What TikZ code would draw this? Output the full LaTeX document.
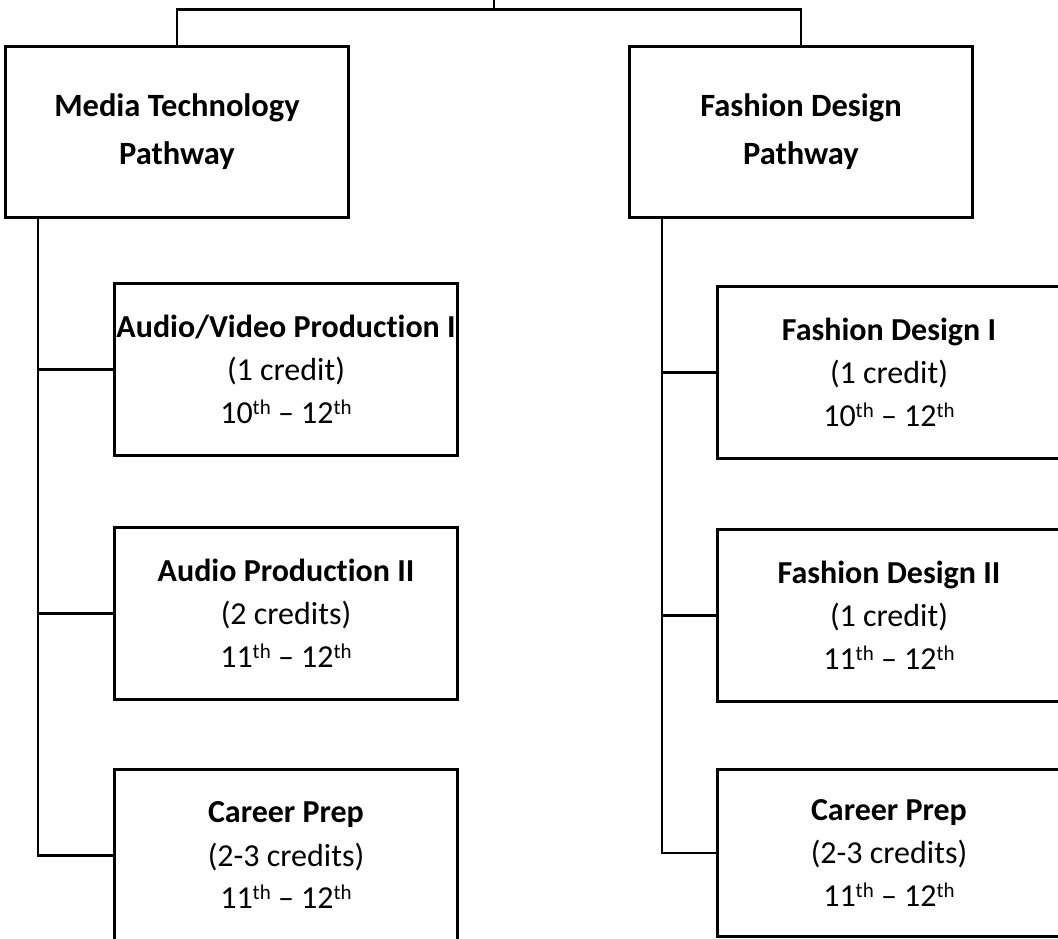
\documentclass[tikz,border=0pt]{standalone}
\usepackage{fontspec}
\setmainfont[Ligatures={NoCommon}]{Carlito}
\usetikzlibrary{positioning}
\newcommand{\ordsup}[1]{\raisebox{0.6ex}{\fontsize{21}{21}\selectfont #1}}
\tikzstyle{pathway} = [rectangle, minimum width=343pt, minimum height=171pt, text centered, align=center, draw=black, line width=3pt, font=\fontsize{32.5}{48}\selectfont\bfseries]
\tikzstyle{course} = [rectangle, minimum width=343pt, minimum height=172pt, inner xsep=0pt, text centered, align=center, draw=black, line width=3pt, font=\fontsize{32}{43}\selectfont]
\tikzstyle{link} = [line width=2.6pt]

\begin{document}
\begin{tikzpicture}[x=1pt, y=1pt]
        \useasboundingbox (0,0) rectangle (1058,-939);
        \clip (0,0) rectangle (1058,-939);
        \node (mediapath) [pathway, anchor=north west] at (4,-45) {Media Technology\\Pathway};
        \node (fashionpath) [pathway, anchor=north west] at (628,-45) {Fashion Design\\Pathway};

        \node (avprod) [course, anchor=north west] at (113,-282) {\textbf{Audio/Video Production I}\\(1 credit)\\10\ordsup{th} – 12\ordsup{th}};
        \node (audioprod) [course, anchor=north west] at (113,-526) {\textbf{Audio Production II}\\(2 credits)\\11\ordsup{th} – 12\ordsup{th}};
        \node (careerleft) [course, anchor=north west] at (113,-768) {\textbf{Career Prep}\\(2-3 credits)\\11\ordsup{th} – 12\ordsup{th}};

        \node (fashionone) [course, anchor=north west] at (716,-285) {\textbf{Fashion Design I}\\(1 credit)\\10\ordsup{th} – 12\ordsup{th}};
        \node (fashiontwo) [course, anchor=north west] at (716,-528) {\textbf{Fashion Design II}\\(1 credit)\\11\ordsup{th} – 12\ordsup{th}};
        \node (careerright) [course, anchor=north west, minimum height=167pt] at (716,-768) {\textbf{Career Prep}\\(2-3 credits)\\11\ordsup{th} – 12\ordsup{th}};

        % top bar
        \coordinate (root) at (494,0);
        \coordinate (hbar) at ([yshift=35.5pt]mediapath.north);
        \draw [link] (root) -- (root |- hbar);
        \draw [link] (mediapath.north) -- (hbar) -| (fashionpath.north);

        % trunks
        \coordinate (ltrunk) at ([xshift=34pt]mediapath.south west);
        \coordinate (rtrunk) at ([xshift=34pt]fashionpath.south west);
        \draw [link] (ltrunk) |- (careerleft.west);
        \draw [link] (ltrunk |- avprod.west) -- (avprod.west);
        \draw [link] (ltrunk |- audioprod.west) -- (audioprod.west);
        \draw [link] (rtrunk) |- (careerright.west);
        \draw [link] (rtrunk |- fashionone.west) -- (fashionone.west);
        \draw [link] (rtrunk |- fashiontwo.west) -- (fashiontwo.west);
    \end{tikzpicture}
\end{document}
